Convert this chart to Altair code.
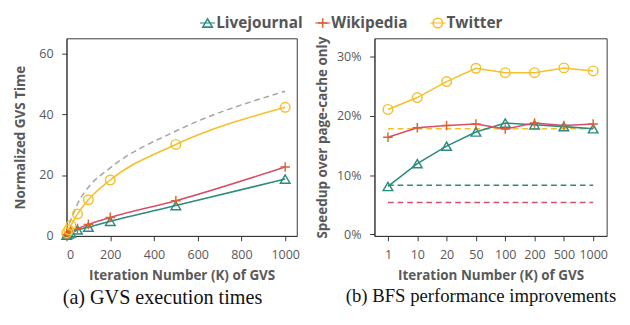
import altair as alt
import pandas as pd

series = ["Livejournal", "Wikipedia", "Twitter"]
line_colors = ["#2b8c7e", "#d3506a", "#f5c02b"]
marker_colors = ["#2b8c7e", "#e0602e", "#f5c02b"]
shapes = ["triangle-up", "M-1,0H1M0,-1V1", "circle"]

# (a) GVS execution times
iters = [1, 10, 20, 50, 100, 200, 500, 1000]
lj_time = [0.3, 0.7, 1.0, 2.0, 2.9, 4.8, 10.0, 18.7]
wiki_time = [0.5, 1.0, 1.5, 2.4, 3.8, 6.1, 11.6, 22.7]
tw_time = [1.0, 2.0, 3.5, 7.2, 11.9, 18.4, 30.1, 42.3]
ref_time = [1.0, 3.5, 5.3, 10.5, 16.0, 22.4, 34.5, 47.6]

# (b) BFS performance improvements (%)
iter_labels = ["1", "10", "20", "50", "100", "200", "500", "1000"]
lj_speed = [8.1, 11.95, 14.9, 17.3, 18.8, 18.5, 18.2, 17.85]
wiki_speed = [16.4, 18.0, 18.4, 18.65, 17.8, 18.8, 18.4, 18.65]
tw_speed = [21.1, 23.1, 25.8, 28.05, 27.3, 27.3, 28.1, 27.6]
base_speed = [8.3, 5.4, 17.85]

rows_a = []
for s, vals in zip(series, [lj_time, wiki_time, tw_time]):
    for x, v in zip(iters, vals):
        rows_a.append({"series": s, "line": s, "iter": x, "time": v})
df_a = pd.DataFrame(rows_a)
df_ref = pd.DataFrame({"iter": iters, "time": ref_time})

rows_b = []
for s, vals in zip(series, [lj_speed, wiki_speed, tw_speed]):
    for x, v in zip(iter_labels, vals):
        rows_b.append({"series": s, "line": s, "iter": x, "speed": v})
df_b = pd.DataFrame(rows_b)
rows_base = []
for s, v in zip(series, base_speed):
    for x in [iter_labels[0], iter_labels[-1]]:
        rows_base.append({"line": s, "iter": x, "speed": v})
df_base = pd.DataFrame(rows_base)
df_leg = pd.DataFrame({"series": series, "line": series, "slot": list(range(len(series)))})

line_stroke = alt.Stroke("line:N", scale=alt.Scale(domain=series, range=line_colors), legend=None)
mark_color = alt.Color("series:N", scale=alt.Scale(domain=series, range=marker_colors), legend=None)
mark_shape = alt.Shape("series:N", scale=alt.Scale(domain=series, range=shapes), legend=None)

# Legend row (drawn from the series list, one slot per series)
xl = alt.X("slot:Q", scale=alt.Scale(domain=[-1.225, 2.608], nice=False, zero=False), axis=None)
leg_line = alt.Chart(df_leg).mark_point(filled=False, strokeWidth=1.6, size=110,
                                        shape="M-1.5,0H1.5").encode(
    x=xl, y=alt.value(9), stroke=line_stroke)
leg_sym = alt.Chart(df_leg).mark_point(filled=False, strokeWidth=1.6, size=100, opacity=1).encode(
    x=xl, y=alt.value(9), color=mark_color, shape=mark_shape)
leg_txt = alt.Chart(df_leg).mark_text(align="left", baseline="middle", dx=9, font="Open Sans",
                                      fontSize=16, fontWeight="bold", color="#555555").encode(
    x=xl, y=alt.value(9), text="series:N")
legend_row = alt.layer(leg_line, leg_sym, leg_txt).properties(
    width=460, height=18, view=alt.ViewBackground(strokeWidth=0))

# Left panel
xa = alt.X("iter:Q", scale=alt.Scale(domain=[0, 1053], nice=False),
           axis=alt.Axis(values=[0, 200, 400, 600, 800, 1000], format="d",
                         title="Iteration Number (K) of GVS"))
ya = alt.Y("time:Q", scale=alt.Scale(domain=[0, 65], nice=False),
           axis=alt.Axis(values=[0, 20, 40, 60], title="Normalized GVS Time", titlePadding=12))

ref_line = alt.Chart(df_ref).mark_line(color="#a6a6a6", strokeDash=[6, 4], strokeWidth=1.6,
                                       interpolate="monotone").encode(x=xa, y=ya)
lines_a = alt.Chart(df_a).mark_line(strokeWidth=1.6, interpolate="monotone").encode(
    x=xa, y=ya, stroke=line_stroke, detail="line:N")
pts_a = alt.Chart(df_a).mark_point(filled=False, strokeWidth=1.5, size=100, opacity=1).encode(
    x=xa, y=ya, color=mark_color, shape=mark_shape)

left = alt.layer(ref_line, lines_a, pts_a).properties(
    width=240, height=206,
    title=alt.TitleParams("(a) GVS execution times", orient="bottom", font="Liberation Serif",
                          fontSize=21, fontWeight="normal", color="#111111", offset=6, dx=-20),
)

# Right panel
xb = alt.X("iter:O", sort=iter_labels, scale=alt.Scale(domain=iter_labels, padding=0.46),
           axis=alt.Axis(labelAngle=0, title="Iteration Number (K) of GVS"))
yb = alt.Y("speed:Q", scale=alt.Scale(domain=[-0.25, 33.1], nice=False),
           axis=alt.Axis(values=[0, 10, 20, 30], labelExpr="datum.value + '%'",
                         title="Speedup over page-cache only"))

base_lines = alt.Chart(df_base).mark_line(strokeDash=[6, 4], strokeWidth=1.6).encode(
    x=xb, y=yb, stroke=line_stroke, detail="line:N")
lines_b = alt.Chart(df_b).mark_line(strokeWidth=1.6).encode(
    x=xb, y=yb, stroke=line_stroke, detail="line:N")
pts_b = alt.Chart(df_b).mark_point(filled=False, strokeWidth=1.5, size=100, opacity=1).encode(
    x=xb, y=yb, color=mark_color, shape=mark_shape)

right = alt.layer(base_lines, lines_b, pts_b).properties(
    width=242, height=206,
    title=alt.TitleParams("(b) BFS performance improvements", orient="bottom", font="Liberation Serif",
                          fontSize=19.5, fontWeight="normal", color="#111111", offset=6, dx=-10),
)

panels = alt.hconcat(left, right, spacing=15)

chart = alt.vconcat(legend_row, panels, spacing=4).properties(
    padding={"left": 5, "top": 0, "right": 5, "bottom": 5}
).configure_view(
    stroke="#333333", strokeWidth=1
).configure_axis(
    labelFont="Open Sans", labelFontSize=13, labelColor="#595959",
    titleFont="Open Sans", titleFontSize=14, titleFontWeight="bold", titleColor="#595959",
    tickColor="#333333", domainColor="#333333", tickSize=5, grid=False,
    labelPadding=9, titlePadding=7,
)

chart.save("out.html", embed_options={"renderer": "svg", "actions": False})
